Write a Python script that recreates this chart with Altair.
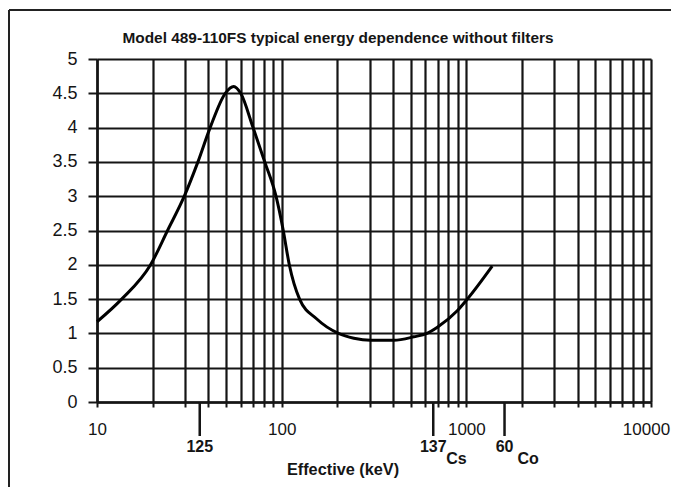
import altair as alt
import pandas as pd

# ---- data ----
energy_kev = [10, 13.6, 19.5, 24.1, 29.7, 35.2, 41, 49.5, 55, 60, 70, 81, 93.2,
              102, 110, 125, 155, 203, 246, 303, 405, 520, 612, 697, 893, 1013, 1381]
response = [1.17, 1.5, 2.0, 2.5, 3.0, 3.5, 4.0, 4.5, 4.6, 4.5, 4.0, 3.5, 3.0,
            2.5, 2.0, 1.5, 1.21, 1.0, 0.93, 0.90, 0.90, 0.95, 1.0, 1.09, 1.33, 1.5, 1.98]

x_grid = [10, 20, 30, 40, 50, 60, 70, 80, 90,
          100, 200, 300, 400, 500, 600, 700, 800, 900,
          1000, 2000, 3000, 4000, 5000, 6000, 7000, 8000, 9000, 10000]
x_labels = [10, 100, 1000, 10000]
y_ticks = [0, 0.5, 1, 1.5, 2, 2.5, 3, 3.5, 4, 4.5, 5]

isotope_mass = ["125", "137", "60"]
isotope_symbol = ["", "Cs", "Co"]
isotope_energy = [36, 662, 1610]

title_text = "Model 489-110FS typical energy dependence without filters"
x_title = "Effective (keV)"

FONT = "Liberation Sans"
INK = "#151515"
W, H = 554, 343

curve = pd.DataFrame({"energy": energy_kev, "resp": response})
iso = pd.DataFrame({"energy": isotope_energy, "mass": isotope_mass, "sym": isotope_symbol})
one = pd.DataFrame({"a": [0]})

xscale = alt.Scale(type="log", domain=[10, 10000], nice=False)
yscale = alt.Scale(domain=[0, 5], nice=False)

label_list = ",".join(str(v) for v in x_labels)
xaxis = alt.Axis(values=x_grid, title=None, grid=True, gridColor=INK, gridWidth=2.2,
                 gridOpacity=1, domainColor=INK, domainWidth=2.5, tickColor=INK, tickWidth=2,
                 tickSize=5, labelFont=FONT, labelFontSize=17, labelColor=INK,
                 labelPadding=14, labelFlush=False, labelOverlap=False,
                 labelOffset=alt.condition(f"datum.value == {x_labels[-1]}", alt.value(-5), alt.value(0)),
                 labelExpr=f"indexof([{label_list}], datum.value) >= 0 ? format(datum.value, 'd') : ''")
yaxis = alt.Axis(values=y_ticks, title=None, grid=True, gridColor=INK, gridWidth=2.2,
                 gridOpacity=1, domainColor=INK, domainWidth=2.5, tickColor=INK, tickWidth=2,
                 tickSize=9, labelFont=FONT, labelFontSize=18, labelColor=INK,
                 labelPadding=11, format="~g", labelFlush=False)

line = alt.Chart(curve).mark_line(color="#000", strokeWidth=3, interpolate="monotone").encode(
    x=alt.X("energy:Q", scale=xscale, axis=xaxis),
    y=alt.Y("resp:Q", scale=yscale, axis=yaxis),
)

iso_rule = alt.Chart(iso).mark_rule(color=INK, strokeWidth=2.5).encode(
    x=alt.X("energy:Q", scale=xscale),
    y=alt.value(H), y2=alt.value(H + 34),
)
iso_mass = alt.Chart(iso).mark_text(font=FONT, fontSize=16, fontWeight="bold", color=INK,
                                    align="center", baseline="middle").encode(
    x=alt.X("energy:Q", scale=xscale),
    y=alt.value(H + 45), text="mass:N",
)
iso_sym = alt.Chart(iso).mark_text(font=FONT, fontSize=16, fontWeight="bold", color=INK,
                                   align="left", baseline="middle", dx=13).encode(
    x=alt.X("energy:Q", scale=xscale),
    y=alt.value(H + 57), text="sym:N",
)

title = alt.Chart(one).mark_text(text=title_text, font=FONT, fontSize=15.4, fontWeight="bold",
                                 color=INK, align="center", baseline="middle").encode(
    x=alt.value(241), y=alt.value(-21))
xtitle = alt.Chart(one).mark_text(text=x_title, font=FONT, fontSize=16.3, fontWeight="bold",
                                  color=INK, align="center", baseline="middle").encode(
    x=alt.value(246), y=alt.value(411))

border_top = alt.Chart(one).mark_rule(color="#222", strokeWidth=2).encode(
    x=alt.value(-88), x2=alt.value(574), y=alt.value(-49))
border_left = alt.Chart(one).mark_rule(color="#222", strokeWidth=2).encode(
    x=alt.value(-88), y=alt.value(-49), y2=alt.value(428))

chart = alt.layer(line, iso_rule, iso_mass, iso_sym, title, xtitle, border_top, border_left).properties(
    width=W, height=H,
    autosize=alt.AutoSizeParams(type="none"),
    padding={"left": 89, "top": 51, "right": 20, "bottom": 85},
    background="white",
).configure_view(stroke=None)

chart.save("out.html", embed_options={"renderer": "svg", "actions": False})
